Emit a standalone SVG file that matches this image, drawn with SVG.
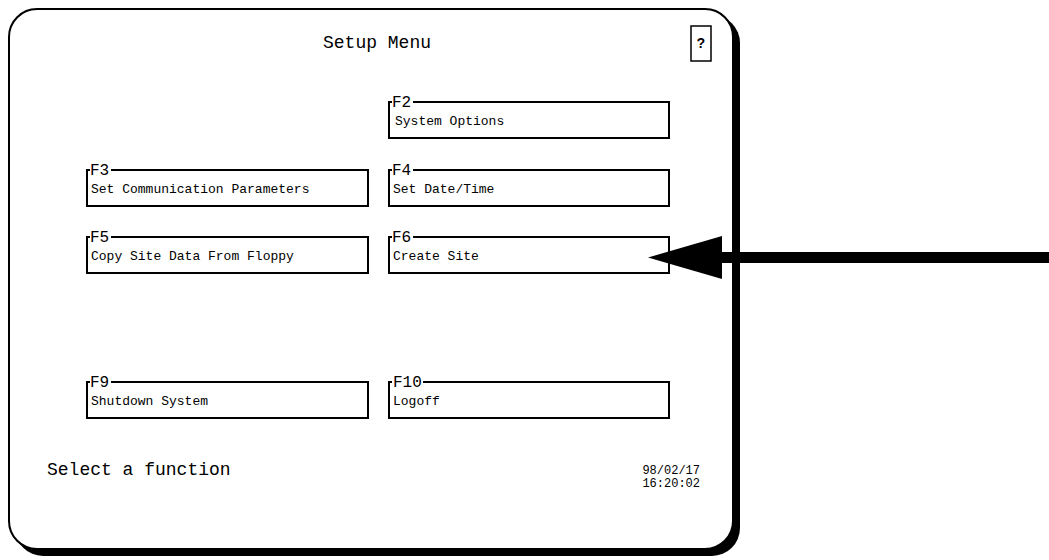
<svg xmlns="http://www.w3.org/2000/svg" width="1049" height="560" viewBox="0 0 1049 560">
<defs>
<style>
.mono{font-family:"Liberation Mono","DejaVu Sans Mono",monospace;fill:#000}
.box{fill:#fff;stroke:#000;stroke-width:2}
.lbl{font-size:16px}
.txt{font-size:13px}
.gap{fill:#fff}
</style>
</defs>
<rect width="1049" height="560" fill="#fff"/>
<g id="frame">
<rect x="15" y="15" width="725" height="541" rx="28" fill="#000"/>
<rect x="9" y="9" width="724" height="540" rx="28" fill="#fff" stroke="#000" stroke-width="2"/>
<text class="mono" x="377" y="48" font-size="18" text-anchor="middle">Setup Menu</text>
<rect x="691" y="26" width="20" height="35" fill="#fff" stroke="#000" stroke-width="1.5"/>
<text class="mono" x="701" y="48" font-size="14" font-weight="bold" text-anchor="middle">?</text>
<text class="mono" x="47" y="475" font-size="18">Select a function</text>
<text class="mono" x="700" y="474" font-size="12" text-anchor="end">98/02/17</text>
<text class="mono" x="700" y="487" font-size="12" text-anchor="end">16:20:02</text>
</g>
<g id="f2">
<rect class="box" x="389" y="102" width="280" height="36"/>
<rect class="gap" x="392" y="98" width="21" height="8"/>
<text class="mono lbl" x="392" y="107">F2</text>
<text class="mono txt" x="395" y="125">System Options</text>
</g>
<g id="f3">
<rect class="box" x="87" y="170" width="281" height="36"/>
<rect class="gap" x="90" y="166" width="21" height="8"/>
<text class="mono lbl" x="90" y="175">F3</text>
<text class="mono txt" x="91" y="193">Set Communication Parameters</text>
</g>
<g id="f4">
<rect class="box" x="389" y="170" width="280" height="36"/>
<rect class="gap" x="392" y="166" width="21" height="8"/>
<text class="mono lbl" x="392" y="175">F4</text>
<text class="mono txt" x="393" y="193">Set Date/Time</text>
</g>
<g id="f5">
<rect class="box" x="87" y="237" width="281" height="36"/>
<rect class="gap" x="90" y="233" width="21" height="8"/>
<text class="mono lbl" x="90" y="242">F5</text>
<text class="mono txt" x="91" y="260">Copy Site Data From Floppy</text>
</g>
<g id="f6">
<rect class="box" x="389" y="237" width="280" height="36"/>
<rect class="gap" x="392" y="233" width="21" height="8"/>
<text class="mono lbl" x="392" y="242">F6</text>
<text class="mono txt" x="393" y="260">Create Site</text>
</g>
<g id="f9">
<rect class="box" x="87" y="382" width="281" height="36"/>
<rect class="gap" x="90" y="378" width="21" height="8"/>
<text class="mono lbl" x="90" y="387">F9</text>
<text class="mono txt" x="91" y="405">Shutdown System</text>
</g>
<g id="f10">
<rect class="box" x="389" y="382" width="280" height="36"/>
<rect class="gap" x="392" y="378" width="31" height="8"/>
<text class="mono lbl" x="393" y="387">F10</text>
<text class="mono txt" x="393" y="405">Logoff</text>
</g>
<g id="connectors">
<rect x="720" y="252" width="329" height="11" fill="#000"/>
<polygon points="648,257.5 722,236 722,279" fill="#000"/>
</g>
</svg>
